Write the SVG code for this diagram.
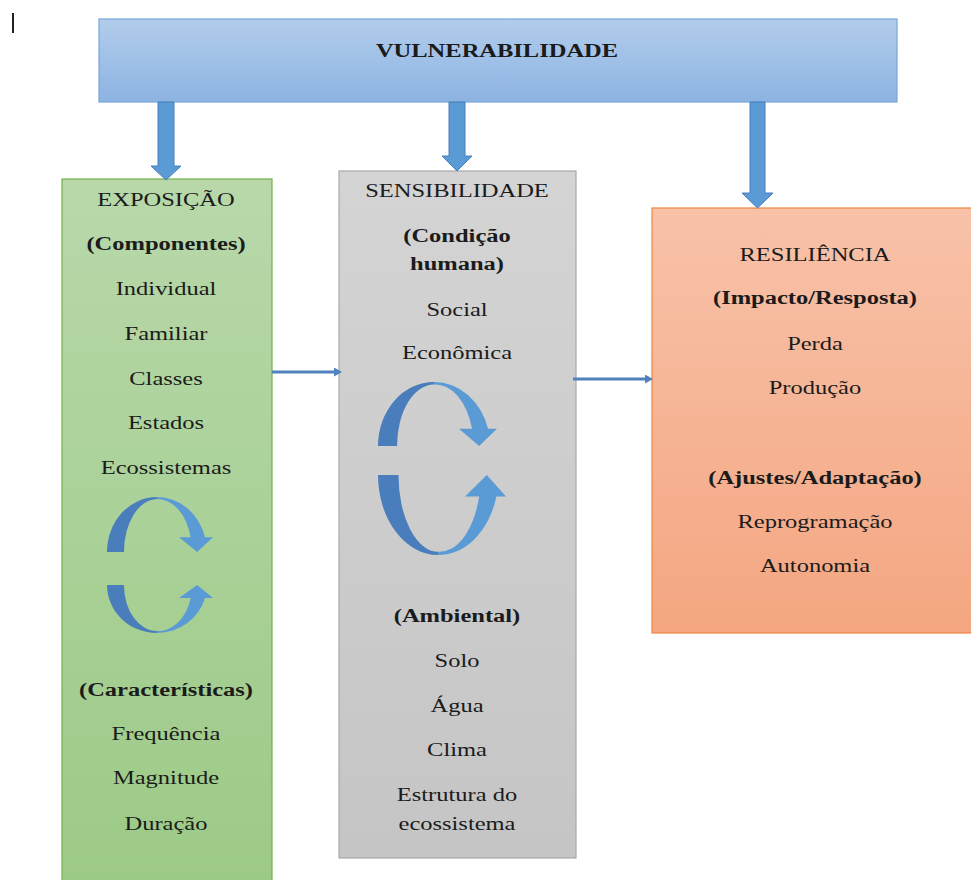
<svg xmlns="http://www.w3.org/2000/svg" width="971" height="880" viewBox="0 0 971 880">
  <defs>
    <linearGradient id="gBlue" x1="0" y1="0" x2="0" y2="1">
      <stop offset="0" stop-color="#b2cdec"/>
      <stop offset="1" stop-color="#8db3e2"/>
    </linearGradient>
    <linearGradient id="gGreen" x1="0" y1="0" x2="0" y2="1">
      <stop offset="0" stop-color="#b8d8aa"/>
      <stop offset="1" stop-color="#9cca86"/>
    </linearGradient>
    <linearGradient id="gGray" x1="0" y1="0" x2="0" y2="1">
      <stop offset="0" stop-color="#d4d4d4"/>
      <stop offset="1" stop-color="#c5c5c5"/>
    </linearGradient>
    <linearGradient id="gOrange" x1="0" y1="0" x2="0" y2="1">
      <stop offset="0" stop-color="#f8c2a9"/>
      <stop offset="1" stop-color="#f4a681"/>
    </linearGradient>
    <marker id="tip" markerUnits="userSpaceOnUse" markerWidth="8" markerHeight="9" refX="0" refY="4.5" orient="auto">
      <path d="M0,0 L8,4.5 L0,9 Z" fill="#4f81bd"/>
    </marker>
    <!-- circular arrow drawn in a 100x100 unit box: arc over the top, head on the right pointing down -->
    <g id="cycle">
      <path d="M0,100 A47,100 0 0 1 47,0 L47,4 A31,96 0 0 0 16,100 Z" fill="#4a7dbb"/>
      <path d="M47,0 A47,100 0 0 1 92.5,73 L100,73 L85,100 L68,73 L79,73 A32,96 0 0 0 47,4 Z" fill="#5b9bd5"/>
    </g>
    <style>
      .box { stroke-width: 1.2; }
      .t { font-family: "Liberation Serif", "Times New Roman", serif; font-size: 19px; fill: #1b1b1b; text-anchor: middle; }
      .b { font-weight: bold; }
      .block { fill: #5b9bd5; stroke: #4a7ebb; stroke-width: 1; }
      .link { stroke: #4f81bd; stroke-width: 3; fill: none; }
    </style>
  </defs>

  <rect width="971" height="880" fill="#ffffff"/>

  <!-- text cursor at the top left -->
  <line x1="13" y1="13" x2="13" y2="33" stroke="#222" stroke-width="2"/>

  <g id="vulnerabilidade">
    <rect class="box" x="99" y="19" width="798" height="83" fill="url(#gBlue)" stroke="#78a5da"/>
    <g transform="translate(497,0) scale(1.29,1)">
      <text class="t b" x="0" y="57" font-size="20">VULNERABILIDADE</text>
    </g>
  </g>

  <g id="exposicao">
    <rect class="box" x="62" y="179" width="210" height="712" fill="url(#gGreen)" stroke="#74b04c"/>
    <g transform="translate(166,0) scale(1.29,1)">
      <text class="t" x="0" y="206">EXPOSIÇÃO</text>
      <text class="t b" x="0" y="250">(Componentes)</text>
      <text class="t" x="0" y="295">Individual</text>
      <text class="t" x="0" y="340">Familiar</text>
      <text class="t" x="0" y="385">Classes</text>
      <text class="t" x="0" y="429">Estados</text>
      <text class="t" x="0" y="474">Ecossistemas</text>
      <text class="t b" x="0" y="696">(Características)</text>
      <text class="t" x="0" y="740">Frequência</text>
      <text class="t" x="0" y="784">Magnitude</text>
      <text class="t" x="0" y="830">Duração</text>
    </g>
    <use href="#cycle" transform="translate(107,497) scale(1.06,0.55)"/>
    <use href="#cycle" transform="translate(107,633) scale(1.06,-0.48)"/>
  </g>

  <g id="sensibilidade">
    <rect class="box" x="339" y="171" width="237" height="687" fill="url(#gGray)" stroke="#a9a9a9"/>
    <g transform="translate(457,0) scale(1.29,1)">
      <text class="t" x="0" y="197">SENSIBILIDADE</text>
      <text class="t b" x="0" y="242">(Condição</text>
      <text class="t b" x="0" y="270">humana)</text>
      <text class="t" x="0" y="316">Social</text>
      <text class="t" x="0" y="359">Econômica</text>
      <text class="t b" x="0" y="622">(Ambiental)</text>
      <text class="t" x="0" y="667">Solo</text>
      <text class="t" x="0" y="712">Água</text>
      <text class="t" x="0" y="756">Clima</text>
      <text class="t" x="0" y="801">Estrutura do</text>
      <text class="t" x="0" y="830">ecossistema</text>
    </g>
    <use href="#cycle" transform="translate(378,382) scale(1.19,0.64)"/>
    <use href="#cycle" transform="translate(378,555) scale(1.28,-0.80)"/>
  </g>

  <g id="resiliencia">
    <rect class="box" x="652" y="208" width="330" height="425" fill="url(#gOrange)" stroke="#ee8643"/>
    <g transform="translate(815,0) scale(1.29,1)">
      <text class="t" x="0" y="261">RESILIÊNCIA</text>
      <text class="t b" x="0" y="304">(Impacto/Resposta)</text>
      <text class="t" x="0" y="350">Perda</text>
      <text class="t" x="0" y="394">Produção</text>
      <text class="t b" x="0" y="484">(Ajustes/Adaptação)</text>
      <text class="t" x="0" y="528">Reprogramação</text>
      <text class="t" x="0" y="572">Autonomia</text>
    </g>
  </g>

  <g id="connectors">
    <path class="block" d="M158,102 L174,102 L174,166 L181,166 L166,180 L151,166 L158,166 Z"/>
    <path class="block" d="M449,102 L465,102 L465,156 L472,156 L457,171 L442,156 L449,156 Z"/>
    <path class="block" d="M750,102 L765,102 L765,193 L773,193 L757.5,208 L742,193 L750,193 Z"/>
    <line class="link" x1="272" y1="372" x2="334" y2="372" marker-end="url(#tip)"/>
    <line class="link" x1="573" y1="379" x2="645" y2="379" marker-end="url(#tip)"/>
  </g>
</svg>
